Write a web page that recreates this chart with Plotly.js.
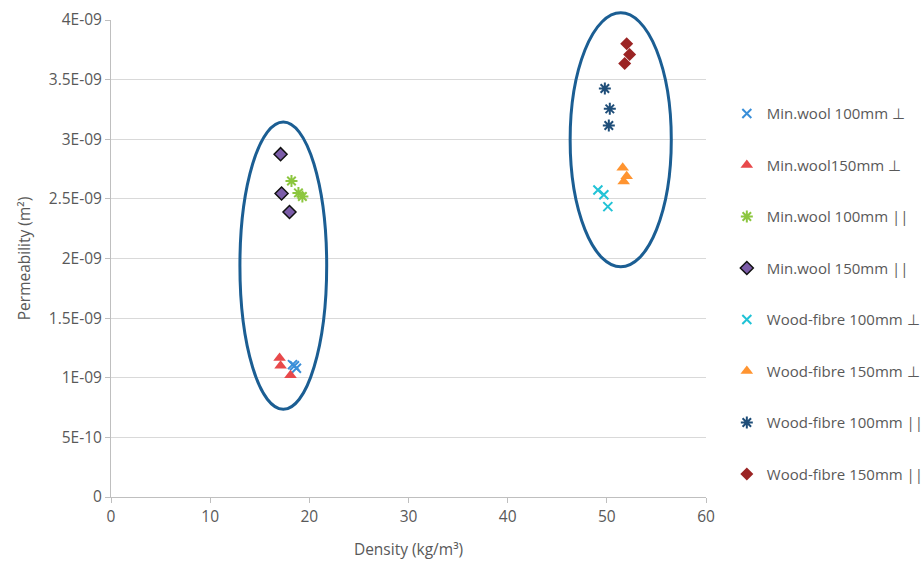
<!DOCTYPE html>
<html>
<head>
<meta charset="utf-8">
<script src="https://cdn.plot.ly/plotly-3.0.1.min.js"></script>
<style>html,body{margin:0;padding:0;background:#fff;}#chart{width:922px;height:563px;}</style>
</head>
<body>
<div id="chart"></div>
<script>
// Series data (density kg/m3, permeability m2)
const minWool100PerpX = [18.3, 18.7, 18.5];
const minWool100PerpY = [1.11e-9, 1.08e-9, 1.10e-9];
const minWool150PerpX = [17.0, 17.1, 18.1];
const minWool150PerpY = [1.165e-9, 1.10e-9, 1.02e-9];
const minWool100ParX = [18.2, 18.9, 19.3];
const minWool100ParY = [2.65e-9, 2.55e-9, 2.52e-9];
const minWool150ParX = [17.1, 17.2, 18.0];
const minWool150ParY = [2.875e-9, 2.545e-9, 2.39e-9];
const wood100PerpX = [49.1, 49.7, 50.1];
const wood100PerpY = [2.575e-9, 2.535e-9, 2.435e-9];
const wood150PerpX = [51.6, 52.0, 51.7];
const wood150PerpY = [2.76e-9, 2.69e-9, 2.645e-9];
const wood100ParX = [49.8, 50.3, 50.2];
const wood100ParY = [3.425e-9, 3.255e-9, 3.115e-9];
const wood150ParX = [52.0, 52.3, 51.8];
const wood150ParY = [3.80e-9, 3.71e-9, 3.635e-9];

const seriesNames = [
  "Min.wool 100mm \u22A5", "Min.wool150mm \u22A5", "Min.wool 100mm ||", "Min.wool 150mm ||",
  "Wood-fibre 100mm \u22A5", "Wood-fibre 150mm \u22A5", "Wood-fibre 100mm ||", "Wood-fibre 150mm ||"
];

const xRange = [0, 60];
const yRange = [0, 4e-9];
const xTickVals = [0, 10, 20, 30, 40, 50, 60];
const yTickVals = [0, 0.5e-9, 1e-9, 1.5e-9, 2e-9, 2.5e-9, 3e-9, 3.5e-9, 4e-9];
const yTickText = ["0", "5E-10", "1E-09", "1.5E-09", "2E-09", "2.5E-09", "3E-09", "3.5E-09", "4E-09"];

// Cluster ellipses (data units)
const ellipseLeft = {x0: 13.0, x1: 21.75, y0: 0.735e-9, y1: 3.145e-9};
const ellipseRight = {x0: 46.3, x1: 56.5, y0: 1.93e-9, y1: 4.06e-9};

const font = "'Open Sans', sans-serif";
const txt = "#595959";

function tr(x, y, i, marker) {
  return {x: x, y: y, name: seriesNames[i], type: "scatter", mode: "markers",
          legendgroup: "g" + i, marker: marker, hoverinfo: "x+y", cliponaxis: false};
}

const data = [
  tr(minWool100PerpX, minWool100PerpY, 0, {symbol: "x-thin-open", size: 9, line: {color: "#3A8FD9", width: 2}, color: "#3A8FD9"}),
  tr(minWool150PerpX, minWool150PerpY, 1, {symbol: "triangle-up", size: 11, color: "#E8494B", line: {width: 0}}),
  tr(minWool100ParX, minWool100ParY, 2, {symbol: "asterisk-open", size: 10, line: {color: "#8CC63F", width: 2}, color: "#8CC63F"}),
  tr(minWool150ParX, minWool150ParY, 3, {symbol: "diamond", size: 10, color: "#7B5CA8", line: {color: "#111111", width: 1.5}}),
  tr(wood100PerpX, wood100PerpY, 4, {symbol: "x-thin-open", size: 9, line: {color: "#22C3D6", width: 2}, color: "#22C3D6"}),
  tr(wood150PerpX, wood150PerpY, 5, {symbol: "triangle-up", size: 11, color: "#FF9430", line: {width: 0}}),
  tr(wood100ParX, wood100ParY, 6, {symbol: "asterisk-open", size: 10, line: {color: "#1F4E79", width: 2}, color: "#1F4E79"}),
  tr(wood150ParX, wood150ParY, 7, {symbol: "diamond", size: 10, color: "#9B2424", line: {width: 0}})
];

// Ellipses in paper coordinates (derived from the data-unit bounds) so they are not clipped at the plot edge
function px(v) { return (v - xRange[0]) / (xRange[1] - xRange[0]); }
function py(v) { return (v - yRange[0]) / (yRange[1] - yRange[0]); }
function ell(e) {
  return {type: "circle", xref: "paper", yref: "paper", x0: px(e.x0), x1: px(e.x1), y0: py(e.y0), y1: py(e.y1),
          line: {color: "#1B5E93", width: 3}, layer: "above"};
}

const layout = {
  width: 922, height: 563,
  margin: {l: 111, r: 216, t: 20, b: 66, pad: 0, autoexpand: false},
  paper_bgcolor: "#fff", plot_bgcolor: "#fff",
  font: {family: font, size: 15, color: txt},
  showlegend: true,
  legend: {x: 1.035, xanchor: "left", y: 0.838, yanchor: "top",
           font: {family: font, size: 15, color: txt},
           tracegroupgap: 29, itemwidth: 30, bgcolor: "rgba(0,0,0,0)"},
  xaxis: {range: xRange, tickvals: xTickVals, showgrid: false, zeroline: false,
          showline: true, linecolor: "#bfbfbf", linewidth: 1, ticks: "outside", ticklen: 5, tickcolor: "#bfbfbf",
          tickfont: {family: font, size: 15.5, color: txt}, automargin: false,
          title: {text: "Density (kg/m\u00B3)", font: {family: font, size: 15.5, color: txt}, standoff: 18}},
  yaxis: {range: yRange, tickvals: yTickVals, ticktext: yTickText, showgrid: true, gridcolor: "#d9d9d9",
          zeroline: false, showline: true, linecolor: "#bfbfbf", linewidth: 1, ticks: "outside", ticklen: 5,
          tickcolor: "#bfbfbf", tickfont: {family: font, size: 15.5, color: txt}, automargin: false,
          title: {text: "Permeability (m\u00B2)", font: {family: font, size: 15.5, color: txt}, standoff: 14}},
  shapes: [ell(ellipseLeft), ell(ellipseRight)]
};

Plotly.newPlot("chart", data, layout, {displayModeBar: false, staticPlot: true});
</script>
</body>
</html>
